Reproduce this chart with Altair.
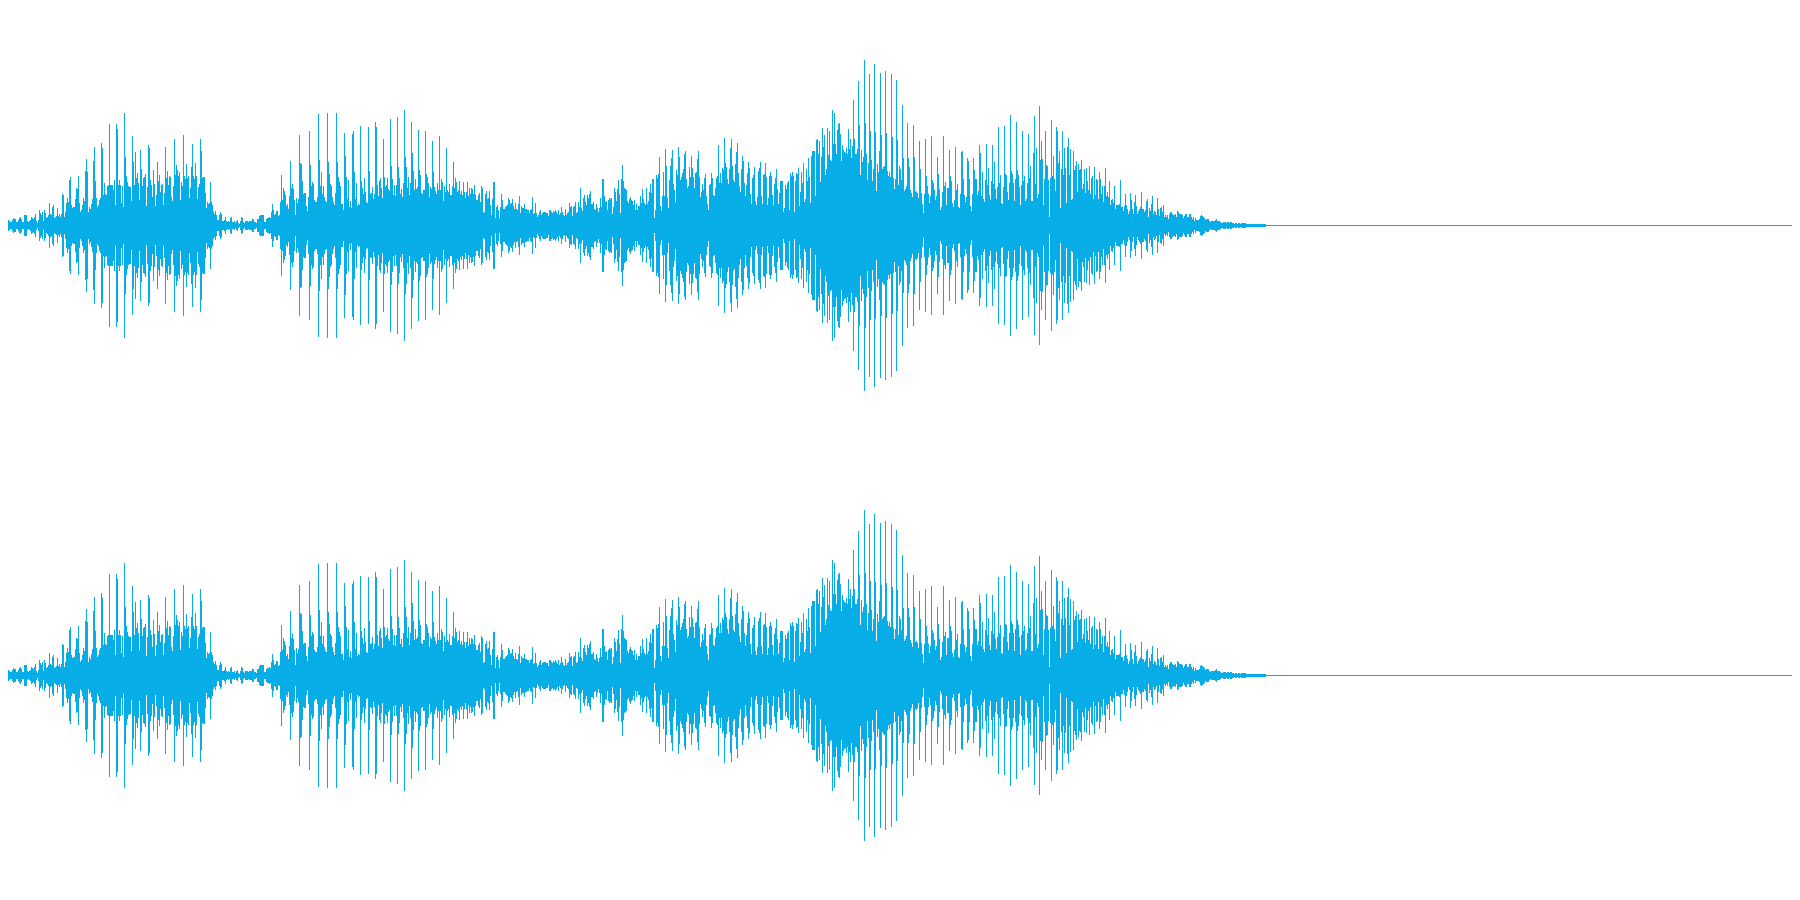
import altair as alt
import pandas as pd

# Half-height of the waveform per pixel column
seg_0 = [3,3,3,5,6,5,3,3,5,4, 3,3,5,7,6,6,3,3,5,7, 8,6,3,3,10,10,10,4,3,4, 5,8,7,6,8,11,4,2,5,15,
         12,10,13,4,15,12,7,8,10,22, 11,10,18,20,7,8,9,17,9,11, 8,11,31,30,8,13,22,27,23,45,
         48,20,17,18,18,26,37,36,49,22, 13,15,20,27,24,54,66,53,13,18, 16,21,26,64,78,44,27,18,20,25,
         27,82,77,30,42,31,30,39,40,101, 40,40,40,35,45,20,101,96,40,45, 40,22,39,18,112,68,49,43,39,38,
         38,24,89,63,40,73,47,52,42,25, 75,56,39,47,48,51,19,38,80,77, 45,40,28,55,41,19,30,63,44,50]
seg_160 = [33,40,41,20,32,78,47,54,40,49,48,28,24,39,86,50,60,55,49,53,25,43,39,90,49,46,61,47,49,27,
           37,58,81,49,46,62,49,26,38,41,86,74,47,48,48,32,17,23,21,22,43,23,20,13,11,14,10,5,5,10,
           13,11,4,4,5,8,4,3,4,3,7,8,3,3,4,2,4,5,2,1,4,8,7,3,2,4,4,4,3,4,
           4,4,6,6,3,3,2,6,6,9,10,10,10,10,3,3,6,7,7,8,7,13,21,15,10,11,14,14,9,10,
           23,50,25,37,34,30,19,21,16,29,64,37,41,36,25,10,27,22,26,90,62,61,44,31,32,32,19,14,28,94,
           60,39,43,41,25,23,23,28,111,65]
seg_320 = [39,53,31,39,28,24,23,112,63,51,41,39,28,23,20,32,112,63,48,43,39,21,21,15,92,69,48,26,45,18,
           24,17,91,94,53,26,42,19,21,20,99,44,37,31,47,33,23,22,98,54,31,32,38,26,31,103,98,40,29,44,
           47,37,27,86,48,38,40,47,36,34,106,59,46,30,40,29,40,108,58,47,31,36,28,42,115,68,58,37,48,30,
           42,103,72,54,35,46,36,38,95,55,50,32,31,35,35,94,51,48,42,28,38,36,84,53,38,34,31,42,35,89,
           35,46,43,24,39,33,77,35,33,41,30,30,39,63,37,47,43,33,35,44,31,34,30,43,33,27,33,43,29,37,
           31,37,36,31,40,30,25,25,30,32]
seg_480 = [23,39,37,12,13,31,34,26,27,34,20,10,26,43,43,7,18,20,15,7,18,31,25,16,16,18,19,20,27,25,
           21,22,26,19,16,22,16,15,21,29,12,19,17,17,21,16,16,15,15,12,15,16,28,11,12,22,12,8,10,13,
           15,10,12,13,13,13,12,12,9,15,15,13,12,14,13,15,13,11,15,10,12,18,13,10,9,16,10,12,13,22,
           18,19,9,18,19,23,12,13,23,18,37,17,14,27,30,23,20,30,27,31,34,21,21,23,16,15,21,17,13,17,
           27,18,46,46,29,23,24,15,25,27,26,27,11,18,37,33,24,36,45,31,12,46,60,44,37,36,35,24,22,26,
           28,25,24,20,25,15,21,15,19,19]
seg_640 = [29,22,36,26,22,20,37,21,24,33,41,32,46,46,7,15,50,47,51,68,19,14,29,53,29,76,59,27,17,45,
           59,67,75,41,35,23,55,50,78,68,45,48,52,56,71,74,46,37,39,58,48,69,57,48,37,52,53,66,74,48,
           28,33,41,35,47,51,29,21,15,40,41,52,47,30,29,37,47,49,80,42,52,42,57,55,87,62,58,46,41,56,
           77,86,59,45,43,61,73,82,52,39,33,56,69,64,42,29,40,52,63,57,31,21,47,50,58,24,20,28,54,57,
           63,29,21,50,51,62,48,20,27,49,53,49,30,20,41,47,56,36,21,32,44,44,44,13,17,40,36,42,44,15,
           52,49,53,49,13,44,52,51,57,19]
seg_800 = [33,53,42,62,23,26,56,44,67,48,22,69,74,74,74,29,85,86,71,84,43,68,97,78,90,50,56,97,70,94,
           65,64,115,81,112,81,71,95,101,102,91,64,80,75,73,72,77,71,96,76,86,67,79,125,86,71,71,76,144,100,
           50,75,63,68,165,102,71,45,62,151,94,65,44,56,161,93,34,61,53,74,152,90,56,58,59,154,92,54,49,53,
           48,151,88,47,36,46,145,85,40,59,56,45,120,67,34,36,39,102,67,58,35,32,28,100,68,33,34,32,
           27,84,56,32,21,12,31,86,49,39,31,22,29,89,45,42,35,25,29,68,51,36,15,18,33,89,39,43,
           20,37,37,75,49,44,22,18,25,78,35,41,18,17]
seg_960 = [31,73,74,46,30,23,28,67,64,46,19,14,31,67,55,46,46,30,34,80,72,29,53,26,23,45,81,40,57,30,
           25,44,80,41,63,36,26,38,98,42,50,22,21,38,99,51,50,33,25,42,110,54,51,42,24,46,103,55,50,38,
           20,40,94,44,49,24,26,42,91,47,59,24,24,72,109,41,77,27,31,119,65,84,66,20,46,94,60,59,45,8,
           47,105,49,69,46,34,98,94,62,74,17,56,94,50,77,57,22,78,87,50,76,25,26,74,55,59,64,33,
           61,55,56,65,36,41,56,32,57,44,35,59,31,47,49,26,58,30,46,45,26,53,46,31,39,23,
           39,57,29,33,28,44,20,25,26,22,39,16,20,20,20,21]
seg_1120 = [45,18,18,14,19,31,20,16,11,14,32,25,16,11,23,30,19,11,14,16,18,33,16,16,13,15,24,26,8,17,
            14,21,29,11,14,13,10,27,16,9,17,18,13,20,8,10,8,10,6,11,13,13,11,10,10,11,8,14,13,11,
            11,11,10,7,9,11,11,8,8,11,11,8,6,8,4,7,5,5,5,6,9,10,9,8,7,5,6,6,6,4,
            3,4,4,4,4,5,6,4,4,4,3,2,2,3,3,3,2,3,3,2,3,3,2,2,1,2,2,1,2,2,
            1,2,2,2,2,2,1,1,1,1,1,1,1,1,1,1,1,1,1,1,1,1,1,1,1,1]
segments = {0: seg_0, 160: seg_160, 320: seg_320, 480: seg_480, 640: seg_640,
            800: seg_800, 960: seg_960, 1120: seg_1120}
tail_start = [1266]
tail_end = [1792]
tail_half = [0.5]
wave_color = "#06ADE6"

rows = []
for start, vals in segments.items():
    limit = start + 160
    for i, h in enumerate(vals):
        c = start + i
        if c >= limit or c >= tail_start[0]:
            break
        rows.append({"col": c, "col2": c + 1, "up": h + 0.5, "down": -h - 0.5})
rows.append({"col": tail_start[0], "col2": tail_end[0], "up": tail_half[0], "down": -tail_half[0]})
df = pd.DataFrame(rows)


def panel(top, bottom):
    return (
        alt.Chart(df)
        .mark_rect(color=wave_color, clip=True)
        .encode(
            x=alt.X("col:Q", axis=None, scale=alt.Scale(domain=[8, 1792], nice=False, zero=False)),
            x2="col2:Q",
            y=alt.Y("up:Q", axis=None, scale=alt.Scale(domain=[bottom, top], nice=False, zero=False)),
            y2="down:Q",
        )
        .properties(width=1784, height=int(top - bottom))
    )


chart = (
    alt.vconcat(panel(217.5, -224.5), panel(225.5, -224.5), spacing=0, padding=0, background="#ffffff")
    .configure_view(strokeWidth=0)
)
chart.save("out.html", embed_options={"renderer": "svg", "actions": False})
